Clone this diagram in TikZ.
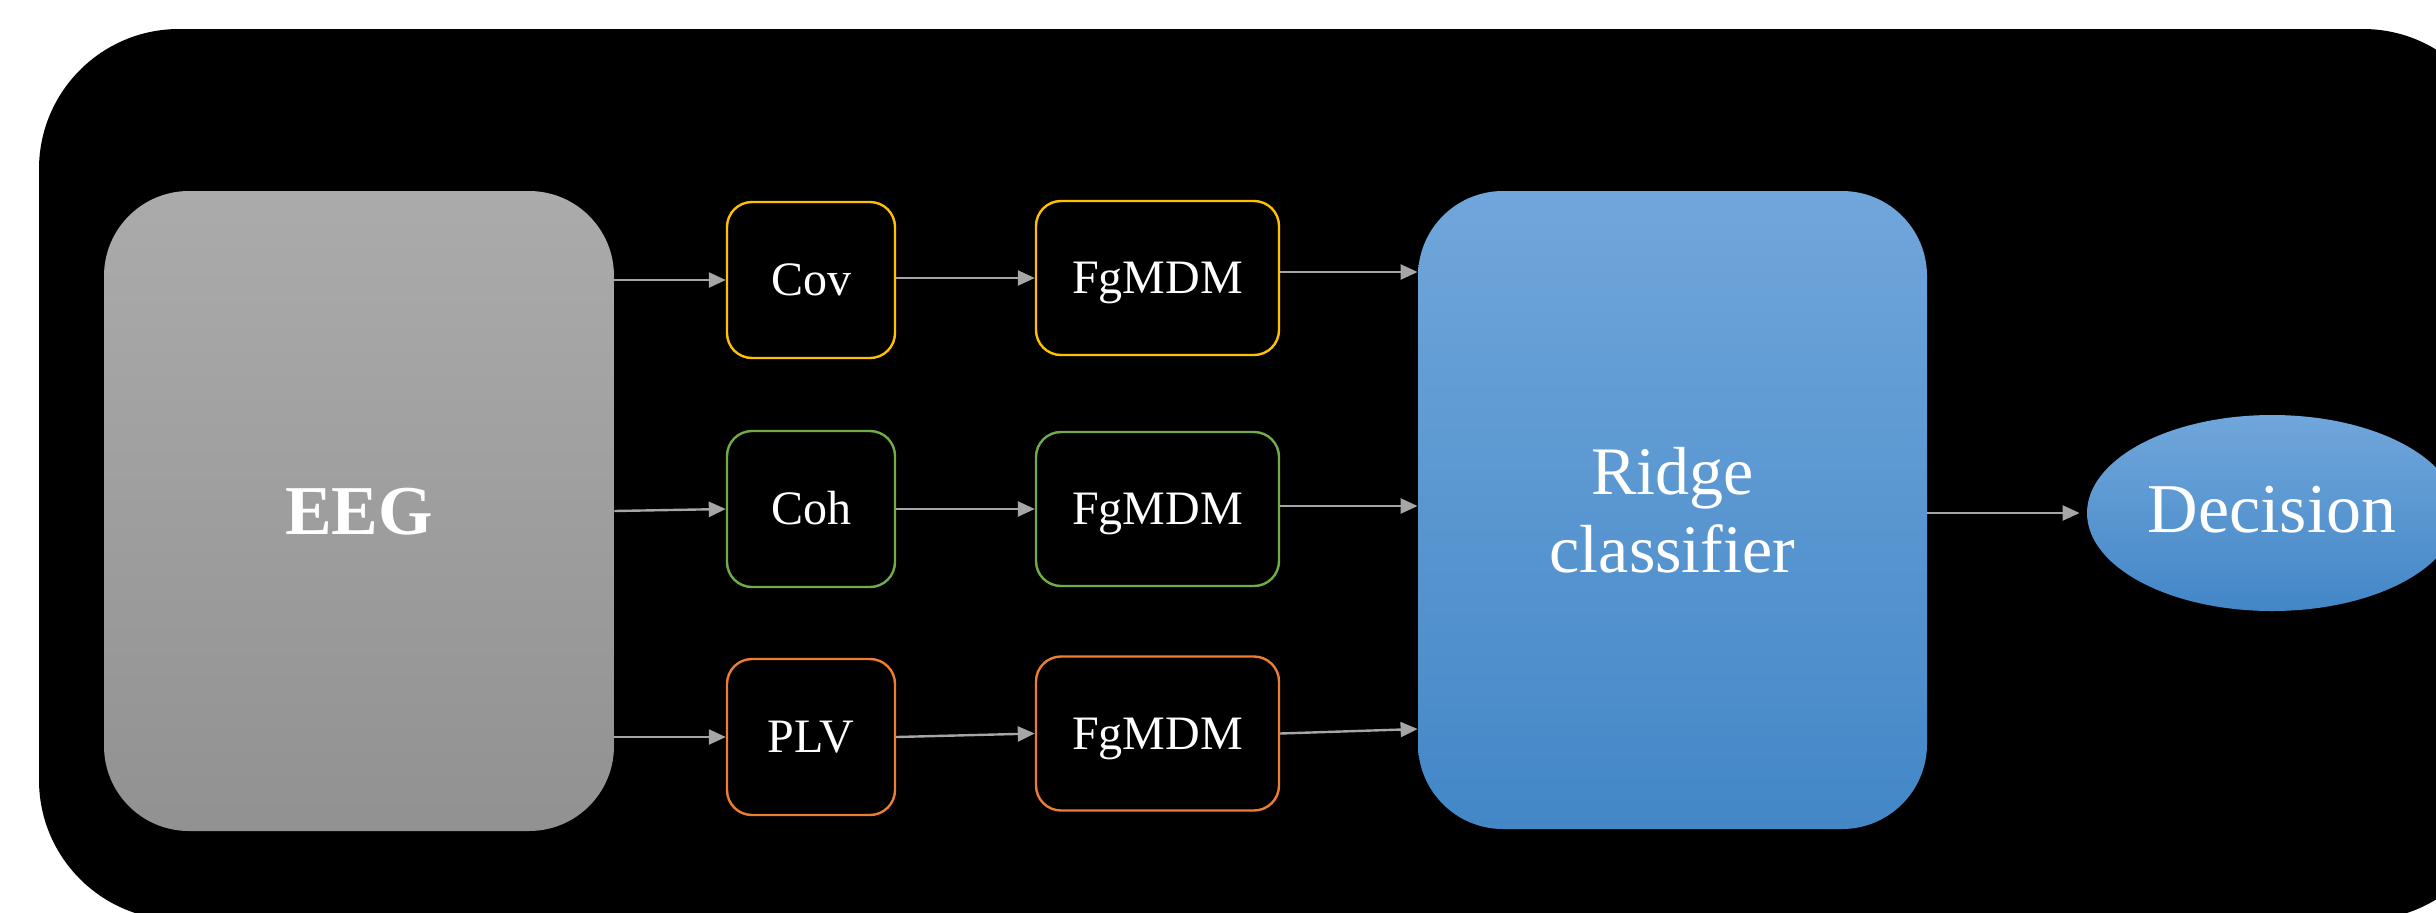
\documentclass[tikz,border=0pt]{standalone}
\usepackage{fontspec}
\setmainfont{Liberation Serif}
\usetikzlibrary{arrows.meta, positioning, shapes.geometric}

\definecolor{covc}{HTML}{FFC000}
\definecolor{cohc}{HTML}{70AD47}
\definecolor{plvc}{HTML}{ED7D31}
\definecolor{arrc}{HTML}{A6A6A6}
\definecolor{bluetop}{HTML}{70A6DB}
\definecolor{bluemid}{HTML}{5B9BD5}
\definecolor{bluebot}{HTML}{4387C7}

\begin{document}
\begin{tikzpicture}[
  x=0.5pt, y=-0.5pt,
  bigbox/.style = {rounded corners=42.5pt, minimum width=255pt, minimum height=320pt,
                   text=white, align=center, inner sep=0pt},
  featbox/.style = {draw, line width=1.2pt, rounded corners=12.5pt, minimum width=84pt,
                    minimum height=78pt, text=white, text height=15.9pt, text depth=0pt,
                    font=\fontsize{24}{28}\selectfont},
  mdmbox/.style = {featbox, minimum width=121.5pt, minimum height=77pt},
  arrow/.style = {draw=arrc, line width=1.2pt, -{Triangle[length=8.5pt, width=7.5pt]}},
  bluefill/.style = {top color=bluetop, middle color=bluemid, bottom color=bluebot}
]

% Frame
\useasboundingbox (0,0) rectangle (2436,912);
\clip (0,0) rectangle (2436,912);
\fill[black, rounded corners=70pt] (39,29) rectangle (2503,920);

% Input
\node[bigbox, top color=black!33, bottom color=black!43, text height=23pt, text depth=0pt,
      font=\bfseries\fontsize{35}{40}\selectfont] (eeg) at (359,511) {EEG};

% Features
\node[featbox, draw=covc] (cov) at (811,280) {Cov};
\node[featbox, draw=cohc] (coh) at (811,509) {Coh};
\node[featbox, draw=plvc] (plv) at (811,737) {PLV};

% Classifiers per feature
\node[mdmbox, draw=covc] (mdmcov) at (1157.5,278) {FgMDM};
\node[mdmbox, draw=cohc] (mdmcoh) at (1157.5,509) {FgMDM};
\node[mdmbox, draw=plvc] (mdmplv) at (1157.5,733.5) {FgMDM};

% Ensemble
\node[bigbox, bluefill, minimum width=254.5pt, minimum height=319pt,
      font=\fontsize{34}{39}\selectfont] (ridge) at (1672.5,510) {Ridge\\classifier};
\node[ellipse, bluefill, minimum width=185pt, minimum height=98pt, inner sep=0pt,
      text=white, text height=23pt, text depth=4pt,
      font=\fontsize{35}{40}\selectfont] (dec) at (2272,513) {Decision};

% Connectors
\draw[arrow] (eeg.east |- cov.west) -- (cov.west);
\draw[arrow] (eeg.east) -- (coh.west);
\draw[arrow] (eeg.east |- plv.west) -- (plv.west);
\draw[arrow] (cov.east |- mdmcov.west) -- (mdmcov.west);
\draw[arrow] (coh.east) -- (mdmcoh.west);
\draw[arrow] (plv.east) -- (mdmplv.west);
\draw[arrow] ([yshift=3pt]mdmcov.east) -- ([yshift=3pt]mdmcov.east -| ridge.west);
\draw[arrow] ([yshift=1.5pt]mdmcoh.east) -- ([yshift=1.5pt]mdmcoh.east -| ridge.west);
\draw[arrow] (mdmplv.east) -- ([yshift=2.25pt]mdmplv.east -| ridge.west);
\draw[arrow, shorten >=3.5pt] (ridge.east |- dec.west) -- (dec.west);

\end{tikzpicture}
\end{document}
